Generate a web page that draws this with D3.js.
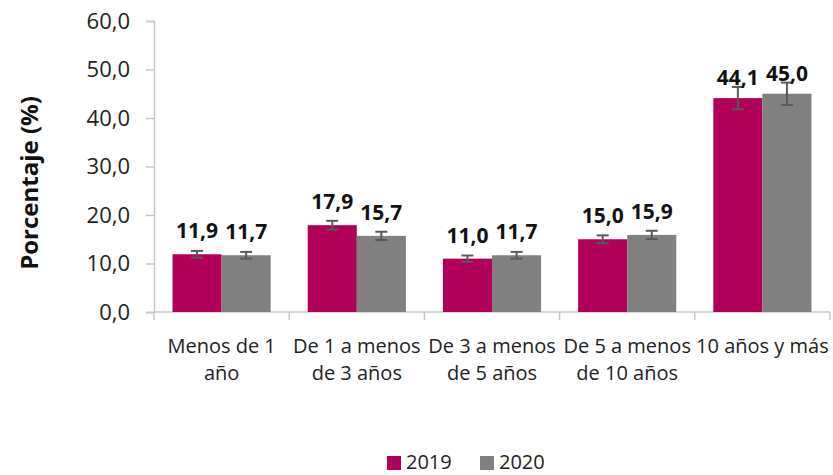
<!DOCTYPE html>
<html>
<head>
<meta charset="utf-8">
<script src="https://cdn.jsdelivr.net/npm/d3@7"></script>
<style>
  body { margin: 0; background: #fff; }
  svg { font-family: "Open Sans", "Noto Sans", sans-serif; }
</style>
</head>
<body>
<div id="chart"></div>
<script>
// data
var categories = ["Menos de 1 año", "De 1 a menos de 3 años", "De 3 a menos de 5 años", "De 5 a menos de 10 años", "10 años y más"];
var catLines = [["Menos de 1", "año"], ["De 1 a menos", "de 3 años"], ["De 3 a menos", "de 5 años"], ["De 5 a menos", "de 10 años"], ["10 años y más"]];
var seriesNames = ["2019", "2020"];
var values2019 = [11.9, 17.9, 11.0, 15.0, 44.1];
var values2020 = [11.7, 15.7, 11.7, 15.9, 45.0];
var err2019 = [0.7, 0.9, 0.65, 0.8, 2.3];
var err2020 = [0.7, 0.85, 0.7, 0.85, 2.3];
var yTicks = [0, 10, 20, 30, 40, 50, 60];
var colors = ["#b0005a", "#808080"];

var W = 833, H = 475;
var mLeft = 154, mRight = 830, mTop = 21, mBottom = 312;

var svg = d3.select("#chart").append("svg")
	.attr("width", W)
	.attr("height", H);

var x = d3.scaleBand().domain(categories).range([mLeft, mRight]).paddingInner(0.274).paddingOuter(0.137);
// full slot per category, for ticks and labels
var slot = d3.scaleBand().domain(categories).range([mLeft, mRight]);
var xs = d3.scaleBand().domain(seriesNames).range([0, x.bandwidth()]);
var y = d3.scaleLinear().domain([0, 60]).range([mBottom, mTop]);

var axisCol = "#c8c8c8";
var fmt = function(d){ return d3.format(".1f")(d).replace(".", ","); };

// y axis
var yAxis = svg.append("g").attr("transform", "translate(" + mLeft + ",0)")
	.call(d3.axisLeft(y).tickValues(yTicks).tickSize(8).tickPadding(16).tickFormat(fmt));
yAxis.attr("font-family", null).attr("font-size", 22);
yAxis.select(".domain").attr("stroke", axisCol).attr("stroke-width", 1.5);
yAxis.selectAll(".tick line").attr("stroke", axisCol).attr("stroke-width", 1.5);
yAxis.selectAll(".tick text").attr("fill", "#222");

// x axis
var xAxis = svg.append("g").attr("transform", "translate(0," + mBottom + ")");
xAxis.append("line").attr("x1", mLeft).attr("x2", mRight).attr("stroke", axisCol).attr("stroke-width", 1.5);
xAxis.selectAll(".xt").data(categories.concat(["end"])).enter().append("line")
	.attr("x1", function(d){ return d === "end" ? mRight : slot(d); })
	.attr("x2", function(d){ return d === "end" ? mRight : slot(d); })
	.attr("y1", 0).attr("y2", 8)
	.attr("stroke", axisCol).attr("stroke-width", 1.5);

var labels = xAxis.selectAll(".xl").data(categories).enter().append("text")
	.attr("text-anchor", "middle")
	.attr("font-size", 20)
	.attr("fill", "#222")
	.attr("transform", function(d){ return "translate(" + (slot(d) + slot.bandwidth() / 2) + ",0)"; });
labels.each(function(d, i){
	var t = d3.select(this);
	catLines[i].forEach(function(line, j){
		t.append("tspan").attr("x", 0).attr("y", 41 + j * 27).text(line);
	});
});

// bars
var data = [];
categories.forEach(function(c, i){
	data.push({cat: c, s: "2019", v: values2019[i], e: err2019[i], col: colors[0]});
	data.push({cat: c, s: "2020", v: values2020[i], e: err2020[i], col: colors[1]});
});

svg.selectAll(".bar").data(data).enter().append("rect")
	.attr("x", function(d){ return x(d.cat) + xs(d.s); })
	.attr("y", function(d){ return y(d.v); })
	.attr("width", xs.bandwidth())
	.attr("height", function(d){ return y(0) - y(d.v); })
	.attr("fill", function(d){ return d.col; });

// error bars
var cx = function(d){ return x(d.cat) + xs(d.s) + xs.bandwidth() / 2; };
var eb = svg.selectAll(".eb").data(data).enter().append("g")
	.attr("stroke", "#595959").attr("stroke-width", 2);
eb.append("line")
	.attr("x1", cx).attr("x2", cx)
	.attr("y1", function(d){ return y(d.v + d.e); })
	.attr("y2", function(d){ return y(d.v - d.e); });
eb.selectAll(".cap").data(function(d){ return [[d, d.v + d.e], [d, d.v - d.e]]; }).enter().append("line")
	.attr("x1", function(p){ return cx(p[0]) - 6; })
	.attr("x2", function(p){ return cx(p[0]) + 6; })
	.attr("y1", function(p){ return y(p[1]); })
	.attr("y2", function(p){ return y(p[1]); });

// value labels
svg.selectAll(".vl").data(data).enter().append("text")
	.attr("x", cx)
	.attr("y", function(d){ return y(d.v) - (d.v > 40 ? 13 : 16); })
	.attr("text-anchor", "middle")
	.attr("font-size", 21)
	.attr("font-weight", "bold")
	.attr("fill", "#111")
	.text(function(d){ return fmt(d.v); });

// y title
svg.append("text")
	.attr("transform", "translate(38,183) rotate(-90)")
	.attr("text-anchor", "middle")
	.attr("font-size", 24)
	.attr("font-weight", "bold")
	.attr("fill", "#111")
	.text("Porcentaje (%)");

// legend
var lg = svg.append("g").attr("transform", "translate(387,453)");
var li = lg.selectAll("g").data(seriesNames).enter().append("g")
	.attr("transform", function(d, i){ return "translate(" + (i * 93) + ",0)"; });
li.append("rect").attr("y", 3).attr("width", 14).attr("height", 14).attr("fill", function(d, i){ return colors[i]; });
li.append("text").attr("x", 19).attr("y", 16).attr("font-size", 20).attr("fill", "#222").text(function(d){ return d; });
</script>
</body>
</html>
